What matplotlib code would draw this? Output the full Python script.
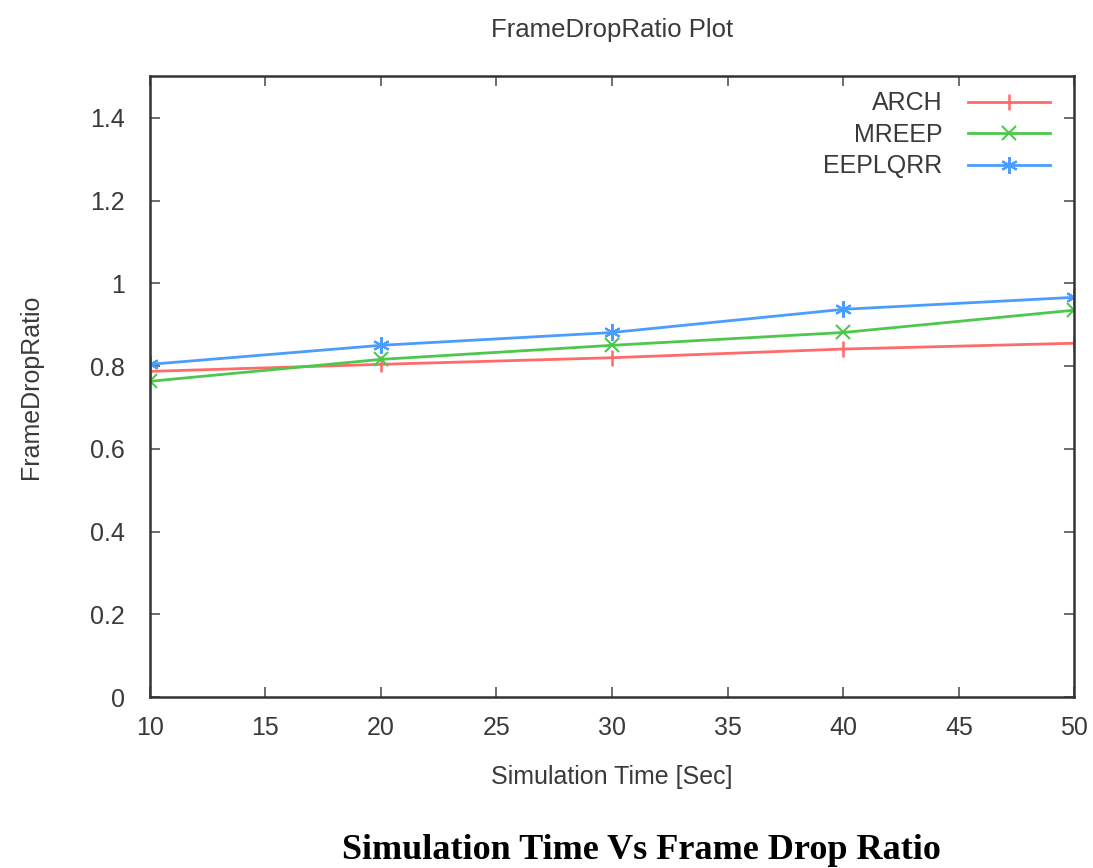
import matplotlib
matplotlib.use("Agg")
import matplotlib.pyplot as plt

# data
time = [10, 20, 30, 40, 50]
arch = [0.787, 0.804, 0.820, 0.841, 0.855]
mreep = [0.763, 0.816, 0.850, 0.881, 0.935]
eeplqrr = [0.804, 0.850, 0.881, 0.937, 0.966]

plt.rcParams['font.family'] = ['Liberation Sans', 'DejaVu Sans']
txt = '#3a3a3a'

fig = plt.figure(figsize=(10.93, 8.68), dpi=100)
ax = fig.add_axes([0.137, 0.197, 0.846, 0.715])

ast = (6, 2, 0)  # gnuplot style asterisk
ax.plot(time, arch, color='#ff6a6a', lw=2, marker='|', ms=12, mew=1.8, label='ARCH')
ax.plot(time, mreep, color='#4cc84c', lw=2, marker='x', ms=10, mew=1.5, label='MREEP')
ax.plot(time, eeplqrr, color='#4a9cff', lw=2, marker=ast, ms=12, mew=1.5, label='EEPLQRR')

ax.set_xlim(10, 50)
ax.set_ylim(0, 1.5)
ax.set_xticks(range(10, 51, 5))
ax.set_yticks([0, 0.2, 0.4, 0.6, 0.8, 1, 1.2, 1.4])
ax.set_yticklabels(['0', '0.2', '0.4', '0.6', '0.8', '1', '1.2', '1.4'])
ax.tick_params(direction='in', length=7, width=1.2, top=True, right=True,
               labelsize=18, colors='#555555', labelcolor=txt)
ax.tick_params(axis='x', pad=14)
ax.tick_params(axis='y', pad=18)
for s in ax.spines.values():
    s.set_linewidth(1.8)
    s.set_color('#333333')

ax.set_title('FrameDropRatio Plot', fontsize=18.5, color=txt, pad=28)
ax.set_xlabel('Simulation Time [Sec]', fontsize=18, color=txt, labelpad=18)
ax.set_ylabel('FrameDropRatio', fontsize=18, color=txt, labelpad=34)

leg = ax.legend(loc='upper right', frameon=False, markerfirst=False, fontsize=18,
                handlelength=3.3, handletextpad=1.0, labelspacing=0.3,
                borderaxespad=0.2, bbox_to_anchor=(0.99, 1.0))
for t in leg.get_texts():
    t.set_color(txt)

fig.text(0.587, 0.01, 'Simulation Time Vs Frame Drop Ratio', ha='center',
         fontsize=26, fontweight='bold', family='Liberation Serif', color='black')

fig.savefig('out.png', dpi=100)
